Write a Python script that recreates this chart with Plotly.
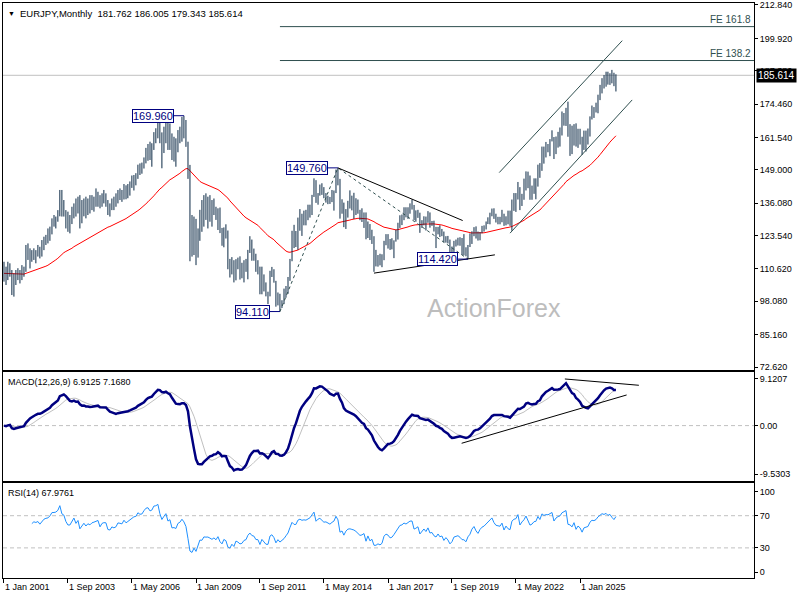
import numpy as np
import pandas as pd
import plotly.graph_objects as go
from plotly.subplots import make_subplots

######## EURJPY monthly bars, Jan 2001 .. Jul 2026 ########

bar_high = [
    113.4, 111.5, 113.4, 112.8, 110.2, 108.9, 110.2, 110.9, 110.2, 112.1, 111.5, 119.9,  # 2001
    120.5, 118.6, 117.9, 118.6, 117.9, 119.9, 119.2, 121.8, 123.1, 123.8, 126.3, 127.0,  # 2002
    130.2, 131.5, 130.9, 133.4, 141.2, 141.2, 137.3, 133.4, 132.8, 131.5, 134.7, 136.0,  # 2003
    137.9, 138.6, 139.2, 137.3, 137.9, 138.6, 137.9, 139.2, 139.2, 138.6, 141.8, 140.5,  # 2004
    139.2, 139.9, 141.2, 139.9, 137.3, 136.0, 137.9, 138.6, 139.9, 141.2, 141.8, 141.2,  # 2005
    143.5, 143.0, 143.5, 144.5, 146.8, 147.0, 147.7, 151.0, 151.5, 151.8, 153.8, 157.5,  # 2006
    159.0, 159.9, 159.3, 163.6, 165.1, 167.7, 168.9, 163.5, 165.7, 168.3, 168.9, 167.0,  # 2007
    163.1, 161.8, 161.2, 164.4, 165.7, 169.5, 169.96, 168.3, 159.9, 150.9, 131.5, 130.9,  # 2008
    130.0, 126.3, 133.5, 137.3, 139.2, 139.9, 138.6, 139.2, 137.3, 137.9, 134.7, 134.1,  # 2009
    134.4, 126.5, 126.7, 127.9, 125.5, 114.5, 115.2, 114.0, 114.4, 115.0, 115.5, 113.0,  # 2010
    114.0, 114.5, 118.0, 123.3, 122.0, 118.5, 116.5, 114.0, 111.5, 111.5, 108.5, 105.4,  # 2011
    101.8, 109.9, 111.4, 110.5, 106.0, 101.5, 101.0, 98.5, 103.0, 104.0, 107.5, 114.5,  # 2012
    125.4, 127.7, 125.3, 130.5, 133.8, 132.0, 133.2, 133.5, 135.5, 135.5, 139.3, 145.7,  # 2013
    145.0, 140.0, 143.3, 143.8, 142.3, 140.0, 139.0, 138.5, 141.2, 141.0, 149.1, 149.76,  # 2014
    145.5, 137.6, 136.3, 133.8, 137.0, 141.05, 139.0, 140.1, 138.0, 137.5, 133.5, 134.1,  # 2015
    132.5, 132.5, 129.0, 128.0, 125.8, 123.3, 118.0, 116.0, 116.5, 116.3, 121.5, 124.1,  # 2016
    124.1, 122.2, 122.5, 121.7, 125.8, 128.5, 131.4, 131.7, 134.5, 134.5, 134.5, 136.0,  # 2017
    137.5, 135.4, 133.3, 133.5, 132.4, 129.5, 131.0, 130.9, 133.0, 132.5, 129.2, 129.3,  # 2018
    126.9, 126.9, 127.5, 126.1, 125.1, 123.3, 123.4, 122.0, 119.3, 121.5, 122.0, 122.7,  # 2019
    122.9, 122.6, 124.1, 119.0, 119.9, 124.4, 125.2, 126.8, 127.1, 125.1, 124.9, 127.3,  # 2020
    127.5, 129.0, 130.6, 132.4, 134.0, 134.1, 132.0, 130.8, 130.8, 133.5, 132.0, 131.0,  # 2021
    133.2, 133.2, 137.5, 140.0, 140.0, 144.3, 142.3, 139.7, 145.6, 148.4, 148.3, 146.8,  # 2022
    142.9, 145.7, 145.7, 151.0, 151.6, 158.0, 158.0, 159.8, 159.0, 160.9, 164.3, 161.7,  # 2023
    161.9, 163.7, 165.4, 171.6, 171.0, 173.0, 175.4, 166.7, 166.1, 166.7, 167.0, 164.9,  # 2024
    164.9, 161.8, 164.2, 164.2, 165.0, 169.7, 173.9, 173.3, 175.0, 178.1, 181.9, 184.5,  # 2025
    185.7, 187.0, 187.0, 186.4, 187.7, 186.6, 186.005,                                   # 2026
]

bar_low = [
    105.7, 104.4, 106.3, 107.6, 100.5, 99.9, 104.4, 106.3, 105.0, 106.3, 107.6, 109.5,  # 2001
    114.1, 110.8, 113.4, 114.1, 112.8, 115.4, 114.7, 115.4, 117.9, 119.9, 120.5, 121.5,  # 2002
    124.0, 127.0, 126.3, 128.9, 131.0, 130.9, 130.9, 126.3, 125.0, 124.4, 128.0, 130.2,  # 2003
    130.9, 132.1, 126.3, 128.3, 131.0, 130.2, 131.5, 132.1, 133.4, 132.8, 134.7, 134.7,  # 2004
    134.1, 134.7, 136.0, 134.7, 131.5, 130.9, 133.4, 133.4, 134.7, 136.0, 137.3, 136.6,  # 2005
    137.5, 137.6, 138.0, 139.0, 142.0, 141.0, 143.0, 145.5, 147.0, 147.5, 149.5, 151.5,  # 2006
    152.5, 152.8, 150.2, 156.7, 159.3, 161.2, 159.3, 149.6, 155.5, 159.3, 156.7, 156.7,  # 2007
    152.8, 152.2, 150.2, 155.8, 159.3, 159.9, 161.2, 157.9, 145.5, 113.6, 115.4, 116.0,  # 2008
    112.1, 115.0, 121.5, 125.0, 127.0, 129.6, 126.3, 128.9, 127.0, 131.5, 129.6, 125.7,  # 2009
    124.5, 119.6, 119.0, 122.4, 110.5, 107.3, 108.5, 105.4, 106.2, 110.5, 106.5, 107.0,  # 2010
    105.4, 109.5, 106.6, 116.8, 113.8, 113.8, 109.5, 108.5, 100.8, 100.8, 101.9, 100.0,  # 2011
    97.0, 100.0, 107.5, 105.3, 96.0, 96.5, 94.11, 95.5, 97.0, 99.5, 101.0, 106.0,  # 2012
    113.6, 118.7, 119.1, 118.0, 125.4, 123.4, 127.5, 127.5, 129.5, 130.5, 131.5, 138.5,  # 2013
    136.2, 135.5, 139.0, 139.3, 138.0, 136.3, 135.7, 135.8, 136.5, 133.2, 140.0, 143.0,  # 2014
    130.1, 132.0, 126.8, 126.1, 130.5, 134.0, 133.3, 130.0, 131.5, 132.0, 129.5, 128.8,  # 2015
    126.5, 122.1, 122.6, 121.8, 120.3, 109.5, 111.6, 111.5, 112.0, 111.3, 114.0, 119.8,  # 2016
    118.5, 118.0, 118.2, 114.8, 121.2, 122.0, 126.5, 127.6, 129.5, 130.6, 130.0, 132.0,  # 2017
    133.6, 129.5, 128.9, 130.4, 124.6, 126.5, 127.5, 125.5, 128.5, 126.6, 127.3, 125.1,  # 2018
    118.7, 124.0, 123.0, 123.3, 120.9, 120.8, 120.5, 115.9, 115.8, 117.0, 119.3, 119.7,  # 2019
    119.6, 116.0, 115.9, 115.5, 114.42, 119.1, 120.3, 123.3, 122.4, 121.6, 121.7, 124.4,  # 2020
    125.1, 125.9, 128.0, 127.9, 131.0, 130.0, 128.6, 127.9, 127.9, 128.7, 127.3, 127.5,  # 2021
    127.9, 127.3, 125.4, 133.1, 132.7, 137.5, 133.4, 135.0, 137.4, 141.0, 141.9, 137.4,  # 2022
    137.4, 139.7, 137.6, 142.5, 145.9, 148.6, 151.4, 153.8, 155.8, 154.3, 160.0, 153.2,  # 2023
    155.1, 157.6, 158.0, 162.3, 166.1, 166.0, 161.8, 154.4, 155.1, 158.4, 158.0, 157.5,  # 2024
    158.8, 154.8, 156.7, 156.1, 158.8, 161.9, 168.5, 169.1, 171.2, 170.9, 176.0, 178.6,  # 2025
    180.5, 181.2, 182.0, 181.9, 182.5, 181.4, 179.343,                                   # 2026
]

bar_close = [
    108.9, 107.5, 110.6, 110.0, 101.4, 105.6, 108.6, 108.3, 108.7, 109.8, 108.6, 116.6,  # 2001
    116.2, 116.0, 115.6, 117.4, 117.0, 117.9, 116.4, 119.0, 121.0, 121.9, 122.3, 124.3,  # 2002
    128.2, 128.3, 128.8, 131.0, 138.8, 134.7, 134.0, 130.3, 128.0, 128.0, 131.9, 135.2,  # 2003
    131.8, 135.0, 128.7, 131.3, 134.8, 132.6, 135.1, 134.3, 136.5, 137.2, 137.9, 139.0,  # 2004
    134.9, 138.2, 139.0, 138.9, 134.5, 134.1, 136.6, 136.0, 136.8, 140.0, 139.8, 139.5,  # 2005
    142.5, 141.2, 142.3, 143.8, 144.5, 146.3, 146.7, 150.3, 149.7, 150.0, 153.5, 156.8,  # 2006
    157.6, 156.4, 157.4, 163.4, 164.0, 166.6, 162.6, 159.6, 163.2, 166.7, 162.3, 163.8,  # 2007
    158.0, 158.3, 157.6, 162.5, 163.8, 167.2, 165.5, 162.3, 150.3, 125.8, 121.4, 126.1,  # 2008
    116.4, 124.4, 131.2, 130.7, 135.5, 135.2, 135.3, 133.5, 131.5, 133.1, 130.2, 133.6,  # 2009
    125.4, 121.4, 126.3, 124.1, 111.0, 108.3, 112.6, 107.5, 113.9, 111.9, 108.2, 108.8,  # 2010
    112.0, 112.9, 117.8, 120.6, 117.2, 116.4, 111.5, 111.3, 103.4, 108.6, 104.4, 100.2,  # 2011
    100.0, 108.9, 110.4, 106.3, 97.3, 100.9, 96.6, 98.2, 100.4, 103.6, 107.0, 114.5,  # 2012
    123.3, 120.8, 120.8, 128.5, 130.4, 129.3, 130.1, 129.8, 132.4, 133.7, 139.0, 144.7,  # 2013
    136.5, 140.3, 141.8, 140.3, 138.3, 138.7, 137.8, 136.8, 139.0, 140.6, 147.5, 144.8,  # 2014
    132.6, 134.1, 128.9, 133.7, 136.3, 136.7, 136.1, 135.5, 134.1, 132.5, 130.2, 130.6,  # 2015
    131.7, 123.6, 128.1, 121.9, 123.3, 114.3, 114.2, 115.4, 113.8, 115.0, 121.0, 123.0,  # 2016
    121.9, 118.9, 119.4, 121.6, 124.3, 128.3, 130.4, 131.0, 133.0, 132.3, 133.9, 135.3,  # 2017
    135.4, 130.2, 130.9, 132.1, 126.8, 129.3, 130.8, 128.9, 131.9, 127.9, 128.3, 125.6,  # 2018
    124.5, 126.6, 124.3, 124.8, 120.9, 122.7, 120.6, 116.6, 117.9, 120.9, 121.3, 121.8,  # 2019
    120.6, 118.7, 118.6, 117.0, 119.6, 121.1, 124.4, 126.3, 123.6, 121.9, 124.6, 126.3,  # 2020
    127.1, 128.7, 129.8, 131.4, 133.9, 131.6, 130.2, 129.9, 129.7, 131.8, 128.2, 130.9,  # 2021
    129.4, 128.9, 135.4, 137.3, 137.9, 142.4, 136.2, 139.4, 141.9, 146.9, 143.5, 140.4,  # 2022
    141.5, 144.3, 144.6, 151.0, 148.9, 157.8, 156.7, 158.0, 157.9, 159.8, 161.6, 156.0,  # 2023
    160.1, 162.3, 163.3, 168.4, 170.6, 172.7, 162.3, 161.8, 160.0, 165.3, 158.8, 163.1,  # 2024
    161.2, 156.5, 161.8, 162.5, 163.6, 169.5, 172.4, 172.1, 173.7, 177.9, 180.8, 183.5,  # 2025
    183.0, 184.8, 183.5, 185.0, 183.2, 181.762, 185.614,                                 # 2026
]

first_month = "2001-01-01"

# axis labels as printed on the chart
price_ticks = [212.84, 199.92, 187.38, 174.46, 161.54, 149.00, 136.08, 123.54, 110.62, 98.08, 85.16, 72.62]
macd_ticks = [9.1207, 0.0, -9.5303]
macd_tick_text = ["9.1207", "0.00", "-9.5303"]
rsi_ticks = [100, 70, 30, 0]
x_tick_dates = ["2001-01-01", "2003-09-01", "2006-05-01", "2009-01-01", "2011-09-01",
                "2014-05-01", "2017-01-01", "2019-09-01", "2022-05-01", "2025-01-01"]
x_tick_labels = ["1 Jan 2001", "1 Sep 2003", "1 May 2006", "1 Jan 2009", "1 Sep 2011",
                 "1 May 2014", "1 Jan 2017", "1 Sep 2019", "1 May 2022", "1 Jan 2025"]

macd_label = "MACD(12,26,9) 6.9125 7.1680"
rsi_label = "RSI(14) 67.9761"

# analyst trendlines (date, value) as drawn on the chart
channel_top_x, channel_top_y = ["2021-08-20", "2026-10-05"], [147.93, 199.02]
channel_bot_x, channel_bot_y = ["2022-02-01", "2027-03-05"], [124.48, 176.07]
tri_top_x, tri_top_y = ["2014-12-01", "2020-02-11"], [149.76, 129.36]
tri_bot_x, tri_bot_y = ["2016-06-01", "2021-06-15"], [109.0, 116.08]
macd_low_x, macd_low_y = ["2020-01-26", "2026-12-11"], [-3.46, 5.99]
macd_high_x, macd_high_y = ["2024-05-15", "2027-06-15"], [9.12, 7.89]

##############################################################################

FONT = "Liberation Sans"
BAR_COLOR = "#0a2844"
SLATE = "#2f4f4f"
NAVY = "#000080"

high = np.array(bar_high)
low = np.array(bar_low)
close = np.array(bar_close)
n = len(close)
dates = pd.date_range(first_month, periods=n, freq="MS")
dstr = [d.strftime("%Y-%m-%d") for d in dates]


def ema(x, period):
    a = 2.0 / (period + 1)
    out = np.empty_like(x)
    out[0] = x[0]
    for t in range(1, len(x)):
        out[t] = out[t - 1] + a * (x[t] - out[t - 1])
    return out


ma55 = ema(close, 55)
macd = ema(close, 12) - ema(close, 26)
signal = pd.Series(macd).rolling(9, min_periods=1).mean().values

# RSI, Wilder smoothing
diff = np.diff(close)
gain = np.where(diff > 0, diff, 0.0)
loss = np.where(diff < 0, -diff, 0.0)
rsi = np.full(n, np.nan)
ag = gain[:14].mean()
al = loss[:14].mean()
rsi[14] = 100 - 100 / (1 + ag / al)
for t in range(15, n):
    ag = (ag * 13 + gain[t - 1]) / 14
    al = (al * 13 + loss[t - 1]) / 14
    rsi[t] = 100 - 100 / (1 + ag / al)

# bars as vertical low-high strokes
bar_x, bar_y = [], []
for d, lo, hi in zip(dstr, low, high):
    bar_x += [d, d, None]
    bar_y += [lo, hi, None]

# swing points
i_top08 = int(np.argmax(high[:110]))
i_low12 = int(np.argmin(low[120:160])) + 120
i_top14 = int(np.argmax(high[150:180])) + 150
i_low20 = int(np.argmin(low[220:245])) + 220
low1, top2, low3 = low[i_low12], high[i_top14], low[i_low20]
fe138 = low3 + 1.382 * (top2 - low1)
fe162 = low3 + 1.618 * (top2 - low1)

x_start = dates[0] - pd.Timedelta(days=15)
x_end = dates[0] + pd.DateOffset(months=375)

fig = make_subplots(rows=3, cols=1, shared_xaxes=True, vertical_spacing=0.004)

fig.add_trace(go.Scatter(x=dstr, y=ma55, mode="lines", line=dict(color="red", width=1)), row=1, col=1)
fig.add_trace(go.Scatter(x=bar_x, y=bar_y, mode="lines", line=dict(color=BAR_COLOR, width=1)), row=1, col=1)

# FE anchor dashes
fig.add_trace(go.Scatter(x=[dstr[i_low12], dstr[i_top14], dstr[i_low20]], y=[low1, top2, low3],
                         mode="lines", line=dict(color=SLATE, width=1, dash="3px,3px")), row=1, col=1)
for tx, ty, col in [(channel_top_x, channel_top_y, SLATE), (channel_bot_x, channel_bot_y, SLATE),
                    (tri_top_x, tri_top_y, "black"), (tri_bot_x, tri_bot_y, "black")]:
    fig.add_trace(go.Scatter(x=tx, y=ty, mode="lines", line=dict(color=col, width=1)), row=1, col=1)

# MACD
fig.add_trace(go.Scatter(x=dstr, y=signal, mode="lines", line=dict(color="#c0c0c0", width=1)), row=2, col=1)
fig.add_trace(go.Scatter(x=dstr, y=macd, mode="lines", line=dict(color=NAVY, width=2.5)), row=2, col=1)
for tx, ty in [(macd_low_x, macd_low_y), (macd_high_x, macd_high_y)]:
    fig.add_trace(go.Scatter(x=tx, y=ty, mode="lines", line=dict(color="black", width=1)), row=2, col=1)

# RSI
fig.add_trace(go.Scatter(x=dstr, y=rsi, mode="lines", line=dict(color="#1e90ff", width=1)), row=3, col=1)

shapes = [
    dict(type="line", xref="paper", x0=0, x1=1, yref="y", y0=close[-1], y1=close[-1],
         line=dict(color="#c0c0c0", width=1), layer="below"),
    dict(type="line", xref="paper", x0=0, x1=1, yref="y2", y0=0, y1=0,
         line=dict(color="#c0c0c0", width=1, dash="4px,3px"), layer="below"),
    dict(type="line", xref="paper", x0=0, x1=1, yref="y3", y0=70, y1=70,
         line=dict(color="#c0c0c0", width=1, dash="4px,3px"), layer="below"),
    dict(type="line", xref="paper", x0=0, x1=1, yref="y3", y0=30, y1=30,
         line=dict(color="#c0c0c0", width=1, dash="4px,3px"), layer="below"),
]
for lvl in (fe138, fe162):
    shapes.append(dict(type="line", xref="x", x0=dstr[i_low12], x1=x_end, yref="y", y0=lvl, y1=lvl,
                       line=dict(color=SLATE, width=1)))

annotations = []
# swing price labels
for idx, val in [(i_top08, high[i_top08]), (i_top14, top2), (i_low12, low1), (i_low20, low3)]:
    shapes.append(dict(type="line", xref="x", x0=dstr[idx - 5], x1=dstr[idx], yref="y", y0=val, y1=val,
                       line=dict(color=NAVY, width=1)))
    annotations.append(dict(x=dstr[idx - 5], y=val, xref="x", yref="y", text=f"{val:.3f}",
                            xanchor="right", yanchor="middle", showarrow=False,
                            bgcolor="white", bordercolor=NAVY, borderwidth=1, borderpad=0,
                            font=dict(family=FONT, size=11, color=NAVY)))

for lvl, txt in [(fe138, "FE 138.2"), (fe162, "FE 161.8")]:
    annotations.append(dict(x=1, y=lvl, xref="paper", yref="y", text=txt, xanchor="right",
                            yanchor="bottom", xshift=-1, showarrow=False,
                            font=dict(family=FONT, size=10, color=SLATE)))

title = f"EURJPY,Monthly  {close[-2]:.3f} {high[-1]:.3f} {low[-1]:.3f} {close[-1]:.3f}"
annotations += [
    dict(x=0, y=1, xref="paper", yref="paper", text="▼", xanchor="left", yanchor="top",
         xshift=3, yshift=-5, showarrow=False, font=dict(family=FONT, size=7, color="black")),
    dict(x=0, y=1, xref="paper", yref="paper", text=title, xanchor="left", yanchor="top",
         xshift=15, yshift=-3, showarrow=False, font=dict(family=FONT, size=9.5, color="black")),
    dict(x=0, y=1, xref="paper", yref="y2 domain", text=macd_label, xanchor="left", yanchor="top",
         xshift=3, yshift=-3, showarrow=False, font=dict(family=FONT, size=9, color="black")),
    dict(x=0, y=1, xref="paper", yref="y3 domain", text=rsi_label, xanchor="left", yanchor="top",
         xshift=3, yshift=-3, showarrow=False, font=dict(family=FONT, size=9, color="black")),
    dict(x=1, y=close[-1], xref="paper", yref="y", text=f"{close[-1]:.3f}", xanchor="left",
         yanchor="middle", xshift=2, showarrow=False, bgcolor="black", borderpad=1,
         font=dict(family=FONT, size=10, color="white")),
    dict(x=0.654, y=0.47, xref="paper", yref="paper", text="ActionForex", showarrow=False,
         font=dict(family=FONT, size=25, color="#bdbdbd")),
]

fig.update_layout(
    width=800, height=600,
    margin=dict(l=3, r=46, t=3, b=22),
    paper_bgcolor="white", plot_bgcolor="white",
    showlegend=False, hovermode=False,
    font=dict(family=FONT, size=9, color="black"),
    shapes=shapes, annotations=annotations,
    yaxis=dict(domain=[0.3617, 1]),
    yaxis2=dict(domain=[0.1687, 0.3583]),
    yaxis3=dict(domain=[0, 0.1652]),
)

fig.update_xaxes(showgrid=False, zeroline=False, showline=True, mirror=True, linecolor="black",
                 linewidth=1, range=[x_start, x_end], ticks="", showticklabels=False)
fig.update_xaxes(row=3, col=1, ticks="outside", ticklen=4, tickcolor="black", showticklabels=True,
                 tickvals=x_tick_dates, ticktext=x_tick_labels, ticklabelposition="outside right",
                 tickfont=dict(family=FONT, size=9))

fig.update_yaxes(side="right", showgrid=False, zeroline=False, showline=True, mirror=True,
                 linecolor="black", linewidth=1, ticks="outside", ticklen=3, tickcolor="black",
                 tickfont=dict(family=FONT, size=9), automargin=False)
fig.update_yaxes(row=1, col=1, range=[71.47, 213.61], tickvals=price_ticks,
                 ticktext=[f"{v:.3f}" for v in price_ticks])
fig.update_yaxes(row=2, col=1, range=[-10.84, 10.49], tickvals=macd_ticks, ticktext=macd_tick_text)
fig.update_yaxes(row=3, col=1, range=[-7.4, 110.6], tickvals=rsi_ticks)

# page body has a default 8px margin; drop it so the chart sits at the window corner
fig.write_html("out.html", config={"displayModeBar": False},
               post_script="document.body.style.margin='0';")
